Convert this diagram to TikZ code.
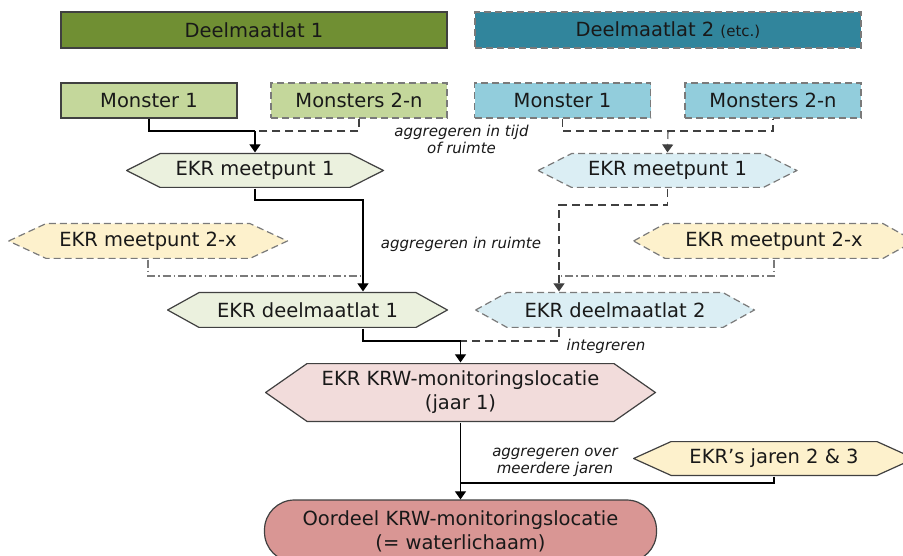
\documentclass[tikz,border=0pt]{standalone}
\usepackage{fontspec}
\setmainfont{DejaVu Sans}
\usetikzlibrary{arrows.meta}
\newlength{\du}
\setlength{\du}{1pt}
\definecolor{dialinecolor}{rgb}{0.250000, 0.250000, 0.250000}
\definecolor{diadashcolor}{rgb}{0.480000, 0.480000, 0.480000}
\definecolor{diatextcolor}{rgb}{0.100000, 0.100000, 0.100000}
\definecolor{olivedark}{rgb}{0.440000, 0.560000, 0.200000}
\definecolor{olivemid}{rgb}{0.768627, 0.843137, 0.607843}
\definecolor{olivelight}{rgb}{0.921569, 0.945098, 0.870588}
\definecolor{aquadark}{rgb}{0.192157, 0.521569, 0.611765}
\definecolor{aquamid}{rgb}{0.572549, 0.803922, 0.862745}
\definecolor{aqualight}{rgb}{0.858824, 0.933333, 0.956863}
\definecolor{goldlight}{rgb}{0.992157, 0.945098, 0.800000}
\definecolor{redlight}{rgb}{0.949020, 0.862745, 0.858824}
\definecolor{redmid}{rgb}{0.850980, 0.588235, 0.580392}
\tikzset{
  box/.style={rectangle, draw=dialinecolor, line width=1.2\du, text=diatextcolor,
    font=\fontsize{19.5}{24}\selectfont, inner sep=0pt, align=center},
  hexbox/.style 2 args={box, draw=none, path picture={
    \path[draw=dialinecolor, line width=1.2\du, #1]
      ([xshift=0.6\du]path picture bounding box.west)
      -- ([xshift=#2, yshift=-0.6\du]path picture bounding box.north west)
      -- ([xshift=-#2, yshift=-0.6\du]path picture bounding box.north east)
      -- ([xshift=-0.6\du]path picture bounding box.east)
      -- ([xshift=-#2, yshift=0.6\du]path picture bounding box.south east)
      -- ([xshift=#2, yshift=0.6\du]path picture bounding box.south west) -- cycle;}},
  dashbox/.style={draw=diadashcolor, dash pattern=on 7\du off 4\du},
  link/.style={draw=black, line width=1.1\du},
  dashlink/.style={link, draw=dialinecolor, dash pattern=on 8\du off 5\du},
  dotlink/.style={link, draw=diadashcolor, dash pattern=on 8\du off 3\du on 1.5\du off 3\du},
  tip/.style={-{Triangle[width=11pt,length=8pt]}},
  note/.style={font=\fontsize{15}{17}\selectfont\itshape, text=diatextcolor,
    align=center, inner sep=0pt}
}
\begin{document}
\begin{tikzpicture}[even odd rule]
\useasboundingbox (0\du,0\du) rectangle (903\du,-556\du);
\node[box, fill=olivedark, minimum width=386\du, minimum height=36\du] (deel1) at (254\du,-30\du) {Deelmaatlat 1};
\node[box, dashbox, fill=aquadark, minimum width=386\du, minimum height=36\du] (deel2) at (668\du,-30\du) {Deelmaatlat 2 {\fontsize{15}{16}\selectfont(etc.)}};
\node[box, fill=olivemid, minimum width=176\du, minimum height=35\du] (mon1L) at (149\du,-100.5\du) {Monster 1};
\node[box, dashbox, fill=olivemid, minimum width=176\du, minimum height=35\du] (mons2L) at (359\du,-100.5\du) {Monsters 2-n};
\node[box, dashbox, fill=aquamid, minimum width=176\du, minimum height=35\du] (mon1R) at (562.5\du,-100.5\du) {Monster 1};
\node[box, dashbox, fill=aquamid, minimum width=176\du, minimum height=35\du] (mons2R) at (773\du,-100.5\du) {Monsters 2-n};
\node[hexbox={fill=olivelight}{34\du}, minimum width=258\du, minimum height=35\du] (mp1L) at (255\du,-170.5\du) {EKR meetpunt 1};
\node[hexbox={fill=aqualight, dashbox}{34\du}, minimum width=260\du, minimum height=35\du] (mp1R) at (667.5\du,-170.5\du) {EKR meetpunt 1};
\node[hexbox={fill=goldlight, dashbox}{38\du}, minimum width=280\du, minimum height=36\du] (mp2xL) at (148\du,-241\du) {EKR meetpunt 2-x};
\node[hexbox={fill=goldlight, dashbox}{32\du}, minimum width=282\du, minimum height=36\du] (mp2xR) at (774\du,-241\du) {EKR meetpunt 2-x};
\node[hexbox={fill=olivelight}{32\du}, minimum width=281\du, minimum height=36\du] (dm1L) at (307.5\du,-310\du) {EKR deelmaatlat 1};
\node[hexbox={fill=aqualight, dashbox}{32\du}, minimum width=280\du, minimum height=36\du] (dm2R) at (615\du,-310\du) {EKR deelmaatlat 2};
\node[hexbox={fill=redlight}{42\du}, minimum width=391\du, minimum height=59\du] (krw) at (460.5\du,-392.5\du) {EKR KRW-monitoringslocatie\\(jaar 1)};
\node[hexbox={fill=goldlight}{38\du}, minimum width=282\du, minimum height=35\du] (jaren) at (774\du,-458.5\du) {EKR’s jaren 2 \& 3};
\node[box, rounded corners=30\du, fill=redmid, minimum width=392\du, minimum height=62\du] (oordeel) at (460.5\du,-531\du) {Oordeel KRW-monitoringslocatie\\(= waterlichaam)};
\node[note] (lbtijd) at (461.5\du,-139.5\du) {aggregeren in tijd\\of ruimte};
\node[note] (lbruimte) at (461\du,-244\du) {aggregeren in ruimte};
\node[note] (lbinteg) at (606\du,-346\du) {integreren};
\node[note] (lbjaren) at (555\du,-462\du) {aggregeren over\\meerdere jaren};
\coordinate (jL) at (255\du,-131\du);
\coordinate (jR) at (668\du,-131\du);
\coordinate (kL) at (363\du,-200\du);
\coordinate (kR) at (559\du,-205\du);
\coordinate (mL) at (363\du,-276\du);
\coordinate (mR) at (559\du,-276\du);
\coordinate (iK) at (460.5\du,-341\du);
\coordinate (jO) at (460.5\du,-483\du);
\draw[link] (mon1L.south) |- (jL);
\draw[dashlink] (mons2L.south) |- (jL);
\draw[link, tip] (jL) -- (mp1L.north);
\draw[dashlink] (mon1R.south) |- (jR) -| (mons2R.south);
\draw[dashlink, tip] (jR) -- (mp1R.north);
\draw[link, tip] (mp1L.south) |- (kL) -- (kL |- dm1L.north);
\draw[dotlink] (mp2xL.south) |- (mL);
\draw[dashlink, tip] (mp1R.south) |- (kR) -- (kR |- dm2R.north);
\draw[dotlink] (mp2xR.south) |- (mR);
\draw[link] (kL |- dm1L.south) |- (iK);
\draw[dashlink] (kR |- dm2R.south) |- (iK);
\draw[link, tip] (iK) -- (krw.north);
\draw[link, tip] (krw.south) -- (oordeel.north);
\draw[link] (jaren.south) |- (jO);
\end{tikzpicture}
\end{document}
